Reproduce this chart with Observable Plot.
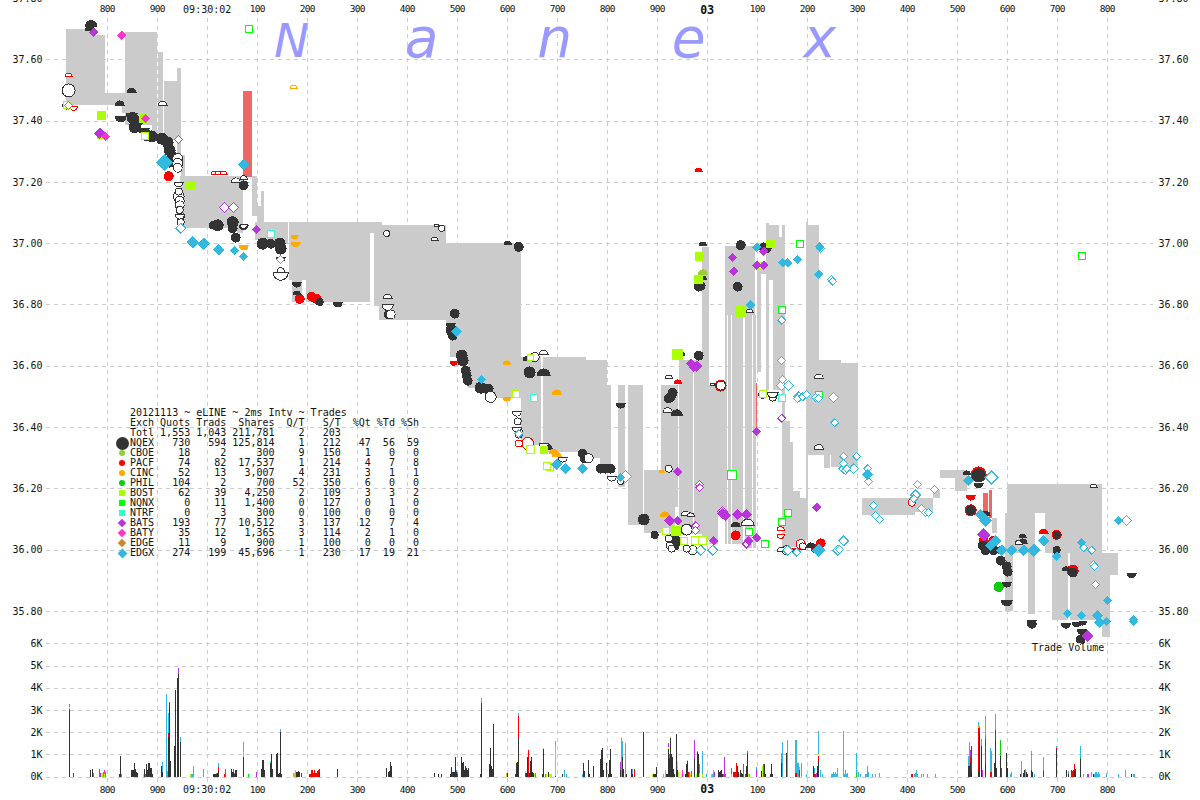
<!DOCTYPE html>
<html><head><meta charset="utf-8">
<script src="https://cdn.jsdelivr.net/npm/d3@7"></script>
<script src="https://cdn.jsdelivr.net/npm/@observablehq/plot@0.6"></script>
<style>
html,body{margin:0;padding:0;background:#fff}
#wrap{position:relative;width:1200px;height:800px;overflow:hidden;font-family:"DejaVu Sans Mono",monospace}
#wrap svg{position:absolute;left:0;top:0;background:transparent}
#wrap g[font-size="9.5"] text{letter-spacing:-.7px}
#legend{position:absolute;left:130px;top:408px;font:10px/10px "DejaVu Sans Mono",monospace;color:#111;white-space:pre}
#legend i{position:absolute;display:block}
</style></head><body><div id="wrap"></div>
<script>
// ---- axes
const tickMs=[-200,-100,0,100,200,300,400,500,600,700,800,900,1000,1100,1200,1300,1400,1500,1600,1700,1800];
const tickLabels=["800","900","09:30:02","100","200","300","400","500","600","700","800","900","03","100","200","300","400","500","600","700","800"];
const priceTicks=[35.8,36.0,36.2,36.4,36.6,36.8,37.0,37.2,37.4,37.6,37.8];
const volumeTicks=[0,1000,2000,3000,4000,5000,6000];
const watermark=[["N",169,37.61,47],["a",429,37.61,55],["n",695,37.61,55],["e",963,37.61,55],["x",1225,37.61,55]];

// ---- legend table
const exchNames=["NQEX","CBOE","PACF","CINC","PHIL","BOST","NQNX","NTRF","BATS","BATY","EDGE","EDGX"];
const quots=["730","18","74","52","104","62","0","0","193","35","11","274"];
const trads=["594","2","82","13","2","39","11","3","77","12","9","199"];
const shares=["125,814","300","17,537","3,007","700","4,250","1,400","300","10,512","1,365","900","45,696"];
const qPerT=["1","9","1","4","52","2","0","0","3","3","1","1"];
const sPerT=["212","150","214","231","350","109","127","100","137","114","100","230"];
const pctQt=["47","1","4","3","6","3","0","0","12","2","0","17"];
const pctTd=["56","0","7","1","0","3","1","0","7","1","0","19"];
const pctSh=["59","0","8","1","0","2","0","0","4","0","0","21"];

// ---- quote spread [ms1, ms2, low, high]
const spreadBands=[[-281,-227,37.451,37.699],[-227,-203,37.451,37.68],[-203,-169,37.451,37.49],[-169,-163,37.425,37.49],[-163,-109,37.385,37.69],[-109,-99,37.353,37.69],[-97,-87,37.353,37.623],[-85,-59,37.337,37.53],[-59,-51,37.255,37.57],[-51,-43,37.22,37.288],[-53,-43,37.05,37.22],[-43,61,37.05,37.22],[61,73,37.033,37.22],[91,101,37.09,37.22],[101,109,37.06,37.12],[109,115,37.07,37.17],[97,117,37.01,37.07],[117,163,37.0,37.07],[165,199,36.88,37.07],[171,191,36.808,36.88],[199,327,36.808,37.07],[327,351,37.033,37.07],[335,345,36.795,37.06],[345,479,36.75,37.06],[479,487,36.707,37.0],[487,523,36.63,37.0],[523,567,36.527,37.0],[567,629,36.495,37.0],[629,669,36.34,36.63],[673,759,36.32,36.63],[759,787,36.30,36.62],[787,801,36.27,36.62],[801,809,36.26,36.537],[823,837,36.205,36.537],[843,873,36.08,36.537],[875,909,36.055,36.26],[909,937,36.056,36.537],[937,943,36.14,36.537],[945,973,36.05,36.62],[975,991,36.05,36.62],[991,1005,36.03,36.987],[1005,1023,36.02,36.537],[1023,1037,36.12,36.537],[1037,1097,36.765,36.99],[1037,1041,36.02,36.765],[1043,1049,36.02,36.765],[1051,1073,36.02,36.765],[1077,1091,36.005,36.765],[1093,1099,36.005,36.765],[1101,1109,36.58,36.93],[1109,1119,36.90,36.93],[1119,1125,36.52,37.066],[1125,1145,36.88,37.06],[1133,1157,36.52,36.88],[1145,1151,36.88,37.02],[1151,1157,36.88,37.06],[1151,1157,36.42,36.52],[1151,1167,36.01,36.42],[1167,1173,36.01,36.35],[1173,1187,36.01,36.19],[1187,1199,36.01,36.17],[1199,1202,36.03,37.07],[1203,1225,36.62,37.06],[1203,1269,36.31,36.62],[1269,1303,36.31,36.61],[1235,1247,36.265,36.31],[1249,1303,36.27,36.31],[1311,1417,36.113,36.17],[1401,1453,36.123,36.17],[1453,1467,36.17,36.195],[1467,1499,36.233,36.26],[1497,1521,36.19,36.26],[1571,1581,36.055,36.103],[1597,1601,35.80,36.12],[1601,1613,35.80,35.99],[1643,1657,35.79,35.99],[1691,1723,35.77,35.99],[1727,1791,35.77,35.99],[1791,1807,35.715,35.99],[1807,1823,35.917,35.99],[1601,1657,35.99,36.215],[1657,1677,36.12,36.215],[1677,1791,35.99,36.215]];
const crossedBands=[[73,91,37.216,37.497],[1099,1100,36.387,36.544],[1553,1563,36.113,36.185],[1565,1571,36.103,36.195]];

// ---- markers [ms, price, radius or side]
const blackCircles=[[-149,37.41,6],[-145,37.38,6],[-137,37.40,5],[-121,37.353,6],[-111,37.35,6],[-91,37.343,6],[-83,37.335,5],[-79,37.33,6],[-75,37.304,6],[-71,37.29,5],[-75,37.268,6],[21,37.06,6],[11,37.06,4],[51,37.07,6],[51,37.05,5],[57,37.02,5],[73,37.19,5],[111,37.0,6],[127,37.0,5],[145,37.0,6],[147,36.984,6],[225,36.81,4],[363,36.77,5],[623,36.99,5],[495,36.772,5],[489,36.717,6],[491,36.70,5],[509,36.635,6],[511,36.619,6],[517,36.586,5],[519,36.57,5],[521,36.553,5],[547,36.53,6],[557,36.527,5],[563,36.527,5],[645,36.58,6],[751,36.315,5],[755,36.30,5],[787,36.266,5],[797,36.266,5],[807,36.266,5],[983,36.86,5],[987,36.863,5],[983,36.635,5],[931,36.514,5],[927,36.50,5],[923,36.495,5],[1067,36.995,5],[1061,36.86,5],[1071,36.78,4],[1113,36.988,5],[1119,36.985,5],[873,36.10,6],[895,36.05,4],[933,36.04,5],[940,36.03,5],[935,36.015,5],[1543,36.244,7],[1527,36.13,5],[1551,36.015,5],[1557,36.0,5],[1573,36.0,5],[1587,35.966,5],[1599,35.947,5],[1601,35.93,5],[1699,36.05,4],[1699,36.0,4],[1731,35.927,5],[1747,35.708,5]];
const blackHalfUp=[[-232,37.71,6],[-235,37.696,5],[-151,37.493,5],[-175,37.451,5],[601,36.997,4],[639,36.62,4],[673,36.57,7],[681,36.33,5],[991,36.994,4],[991,36.883,4],[948,36.635,4],[939,36.44,6],[1057,36.077,5],[1631,36.022,5],[1717,35.934,4],[1519,36.247,4],[1631,36.04,4],[179,36.834,4],[1207,36.009,5],[1557,36.113,5]];
const blackHalfDown=[[-173,37.415,6],[-151,37.425,6],[-127,37.376,6],[73,37.06,5],[147,36.955,5],[179,36.873,5],[261,36.808,5],[487,36.74,5],[827,36.478,5],[1543,36.218,5],[1599,35.894,5],[1599,35.836,6],[1649,35.77,5],[1649,35.76,5],[1717,35.76,5],[1739,35.764,5],[1751,35.767,4],[1749,35.74,5],[1849,35.924,5]];
const whiteCircles=[[-277,37.50,7],[-59,37.278,5.5],[-59,37.262,5.5],[-59,37.248,5],[-57,37.17,4],[-57,37.154,6],[-55,37.14,5],[-55,37.125,5],[-55,37.11,4],[-53,37.09,4.5],[-53,37.07,4],[359,37.033,3.5],[469,37.05,3.5],[367,36.769,5],[567,36.50,6],[617,36.508,3.5],[655,36.63,5],[621,36.42,4],[623,36.39,4],[623,36.377,4],[763,36.30,5],[827,36.224,3.5],[147,36.91,4],[1129,37.0,3.5],[1027,36.537,5],[923,36.266,4],[959,36.067,6],[923,36.038,4],[925,36.015,4],[929,36.005,4],[959,36.005,4],[971,36.0,5],[1131,36.498,4],[1191,36.012,4],[1159,36.0,5]];
const whiteHalfUp=[[-89,37.45,5],[57,37.20,5],[73,37.21,4],[459,37.056,3],[455,37.01,4],[361,36.82,5],[673,36.638,5],[923,36.56,4],[1011,36.537,3],[921,36.45,5],[1085,36.775,4],[957,36.113,5],[967,36.11,4],[1081,36.08,7],[1223,36.56,5],[1223,36.33,5],[1623,36.02,4],[1773,36.204,4],[1149,35.995,5]];
const whiteHalfDown=[[-281,37.454,5],[-57,37.20,5],[-55,37.095,5],[73,37.062,4],[147,36.905,8],[361,36.80,6],[619,36.452,5],[619,36.40,5],[673,36.348,5],[711,36.302,5],[809,36.24,5],[1111,36.51,5],[1131,36.515,6]];
const edgxFilled=[[-85,37.265,8],[-29,37.004,5.5],[-7,37.0,5.5],[23,36.98,5],[55,36.978,4],[73,36.958,4],[73,37.258,5],[499,36.713,5],[549,36.557,4],[699,36.28,5],[717,36.266,5],[751,36.266,5],[827,36.237,4],[1087,36.80,4],[1099,36.988,4],[1151,36.938,4],[1161,36.938,4],[1181,36.948,4],[1225,36.99,4],[1223,36.90,4],[1523,36.227,5],[1547,36.116,5],[1557,36.097,6],[1577,36.03,5],[1567,36.015,5],[1589,36.0,5],[1609,36.0,5],[1633,36.0,5],[1653,36.0,6],[1673,36.03,5],[1699,35.98,4],[1749,36.025,4],[1801,35.836,4],[1721,35.793,4],[1749,35.787,4],[1781,35.787,5],[1785,35.764,5],[1799,35.767,4],[1853,35.774,4],[1853,35.767,4],[1823,36.097,4],[1223,36.0,6],[1321,36.247,5]];
const edgxHollow=[[-53,37.05,5],[147,36.948,4],[837,36.24,6],[623,36.38,4],[987,36.0,5],[1011,36.0,5],[1161,36.0,5],[1179,35.993,4],[1227,36.984,4],[1249,36.883,4],[1251,36.877,4],[1149,36.75,4],[1149,36.619,4],[1151,36.557,4],[1149,36.537,5],[1163,36.537,5],[1181,36.495,4],[1183,36.50,5],[1191,36.50,4],[1199,36.508,4],[1217,36.498,4],[1223,36.495,4],[1253,36.498,5],[1255,36.416,4],[1273,36.306,4],[1273,36.283,4],[1273,36.266,5],[1277,36.26,4],[1279,36.266,4],[1299,36.306,4],[1293,36.266,5],[1321,36.266,4],[1323,36.224,4],[1333,36.146,4],[1337,36.113,4],[1345,36.10,4],[1421,36.214,4],[1417,36.18,5],[1413,36.168,4],[1455,36.198,4],[1429,36.136,4],[1437,36.123,4],[1443,36.123,4],[1569,36.237,6.5],[1261,36.0,5],[1265,36.002,4],[1273,36.03,5],[1753,36.008,4],[1769,36.0,4],[1773,35.953,4],[1775,35.947,4],[1777,35.888,4],[1839,36.097,5]];
const batsFilled=[[-227,37.69,4],[-215,37.36,5],[99,37.046,4],[1051,36.955,4],[1053,36.91,4],[1099,36.93,4],[1113,36.93,4],[1113,36.975,4],[941,36.256,4],[967,36.61,4],[979,36.60,5],[973,36.596,4],[925,36.096,5],[941,36.096,4],[1013,36.03,4],[1031,36.12,5],[1037,36.113,5],[1061,36.116,5],[1079,36.116,5],[1083,36.03,4],[1099,36.04,4],[1099,36.387,4],[1219,36.14,4],[1553,36.05,6],[1761,35.72,5]];
const batsHollow=[[-57,37.34,4],[35,37.118,5],[53,37.118,5],[985,36.214,4],[985,36.204,4],[1149,36.43,4],[1031,36.126,5],[977,36.08,4],[977,36.064,4],[1079,36.02,4]];
const batyFilled=[[-171,37.68,4],[-123,37.408,4],[-203,37.35,4]];
const batyHollow=[[-277,37.451,4]];
const bostFilled=[[-211,37.418,8],[-213,37.353,7],[-127,37.408,8],[-33,37.19,8],[985,36.958,8],[983,36.883,8],[941,36.638,10],[1067,36.78,10],[1127,37.0,8],[673,36.328,7],[937,36.064,9]];
const bostHollow=[[-281,37.451,7],[-125,37.35,7],[617,36.508,7],[647,36.328,8],[685,36.27,7],[679,36.276,7],[917,36.064,7],[953,36.03,7],[977,36.03,8],[991,36.03,8],[1111,36.51,7],[1107,36.93,6],[647,36.63,6]];
const nqnxHollow=[[83,37.70,7],[1185,37.0,7],[1149,36.785,7],[1223,36.505,7],[1049,36.244,9],[1083,36.06,7],[1115,36.02,7],[1149,36.093,7],[1161,36.12,7],[1749,36.96,7]];
const ntrfHollow=[[127,37.033,7],[653,36.498,7],[1149,36.498,7]];
const pacfFilled=[[-77,37.22,5],[185,36.82,5],[209,36.827,5],[219,36.82,5],[1057,36.048,5],[1217,36.005,5],[1227,36.022,5],[1699,36.05,5],[1553,36.03,5],[1573,36.03,5],[1587,36.0,4],[1527,36.13,6],[1731,35.933,6],[1543,36.247,8]];
const pacfHalfUp=[[941,36.544,4],[1673,36.054,5],[983,37.235,4]];
const pacfHalfDown=[[493,36.615,4],[1527,36.178,5],[1177,36.005,5]];
const pacfHollowUp=[[-277,37.545,4],[15,37.225,4],[23,37.225,4],[33,37.225,4],[1147,36.065,4]];
const pacfHollowDown=[[-267,37.447,4],[1147,36.05,4]];
const pacfRings=[[641,36.348,6.5],[623,36.348,4],[1027,36.537,6],[1187,36.02,5],[1409,36.155,4]];
const cincHalfUp=[[599,36.606,4],[699,36.508,5],[693,36.315,5],[915,36.11,5],[909,36.253,3],[699,36.305,5]];
const cincHalfDown=[[73,36.994,5],[175,37.027,4],[177,37.004,5],[599,36.498,4]];
const cincHollowUp=[[173,37.506,4]];
const cboeHalfUp=[[991,36.90,5]];
const philFilled=[[1583,35.88,5]];

// ---- trade volume per 2 ms bin [ms, shares]
const volNQEX=[[-276,2950],[-233,300],[-230,350],[-175,100],[-173,950],[-151,300],[-149,300],[-147,300],[-145,600],[-143,350],[-141,200],[-139,150],[-125,350],[-121,550],[-119,300],[-117,600],[-115,600],[-113,400],[-111,400],[-109,100],[-91,500],[-89,200],[-77,1800],[-75,3200],[-73,720],[-65,1400],[-63,3900],[-59,4450],[-57,4600],[-53,1550],[13,100],[15,140],[17,100],[19,100],[21,150],[23,250],[49,350],[51,200],[53,200],[55,100],[57,300],[59,300],[73,900],[109,350],[111,750],[113,750],[115,300],[127,600],[129,1000],[131,350],[139,1000],[141,1050],[143,100],[145,150],[147,2000],[149,100],[179,200],[181,200],[183,250],[185,200],[225,150],[261,350],[359,400],[362,200],[365,250],[366,670],[368,500],[455,150],[463,130],[469,130],[487,100],[489,420],[491,200],[493,200],[495,200],[497,900],[499,200],[509,880],[511,600],[513,650],[515,300],[517,500],[519,400],[521,300],[523,400],[547,100],[549,3300],[565,550],[567,1300],[569,500],[571,350],[573,2350],[601,150],[617,100],[619,600],[621,650],[623,1750],[639,150],[641,900],[645,150],[647,700],[649,900],[651,200],[653,150],[671,100],[673,1250],[683,200],[697,50],[711,130],[753,600],[755,250],[763,750],[765,130],[773,480],[787,800],[789,1200],[791,1300],[793,300],[799,600],[803,130],[805,750],[807,1250],[809,130],[827,300],[831,900],[833,350],[839,130],[849,350],[851,130],[873,2000],[893,100],[895,100],[897,100],[899,450],[919,130],[921,130],[923,1250],[925,850],[927,1750],[929,1000],[931,900],[933,350],[935,130],[938,130],[939,1900],[941,300],[957,130],[959,550],[961,700],[975,800],[981,1100],[983,1000],[1023,300],[1025,200],[1027,250],[1029,300],[1031,130],[1061,500],[1063,200],[1067,300],[1069,150],[1071,100],[1079,500],[1081,1050],[1109,250],[1115,550],[1117,100],[1127,130],[1129,550],[1131,130],[1149,600],[1159,1050],[1213,500],[1221,500],[1223,700],[1523,500],[1525,500],[1527,600],[1529,250],[1543,250],[1545,1900],[1549,1400],[1557,600],[1575,600],[1577,1600],[1579,400],[1587,950],[1599,1050],[1601,400],[1627,130],[1633,150],[1635,300],[1639,200],[1641,100],[1649,300],[1651,200],[1699,1200],[1719,300],[1723,130],[1735,250],[1737,350],[1747,800],[1773,130],[1849,130]];
const volPACF=[[-276,100],[-267,150],[-77,150],[-75,150],[23,170],[34,100],[189,150],[205,100],[207,100],[209,300],[211,300],[213,150],[215,300],[217,150],[219,150],[221,250],[223,300],[225,200],[501,100],[623,1000],[637,150],[643,1200],[854,350],[963,200],[1053,200],[1055,200],[1057,200],[1059,600],[1077,100],[1177,150],[1179,150],[1185,300],[1215,100],[1217,100],[1223,250],[1409,130],[1411,130],[1527,300],[1529,1150],[1543,1950],[1545,300],[1557,1100],[1567,200],[1569,200],[1577,500],[1589,400],[1673,250],[1699,100],[1729,300],[1731,250],[1733,300],[1735,300]];
const volCINC=[[73,250],[173,150],[175,150],[177,280],[599,150],[697,1350],[913,100],[917,300],[1009,130],[1185,150],[1189,50],[1543,100]];
const volPHIL=[[83,100],[1149,100],[1299,150],[1587,700],[1747,100]];
const volBOST=[[-276,100],[-211,150],[-209,150],[-205,100],[-127,100],[-33,100],[619,50],[637,100],[655,100],[673,50],[679,100],[685,100],[687,100],[689,100],[891,100],[923,100],[927,50],[941,400],[943,200],[949,130],[953,100],[961,50],[967,100],[979,100],[985,150],[991,100],[1049,100],[1065,100],[1083,100],[1111,500],[1223,50]];
const volNTRF=[[127,100]];
const volEDGX=[[-89,450],[-81,3700],[-79,250],[-77,900],[-53,250],[-31,100],[-29,100],[-27,500],[-7,350],[19,50],[23,200],[55,50],[73,400],[147,150],[499,100],[501,100],[549,250],[623,100],[697,200],[715,300],[719,130],[751,100],[829,1750],[831,700],[837,1500],[851,200],[981,50],[991,1050],[999,130],[1011,130],[1013,300],[1085,100],[1099,100],[1149,250],[1151,1550],[1161,1650],[1177,1500],[1179,1500],[1181,600],[1183,600],[1189,550],[1199,130],[1215,300],[1223,1050],[1227,300],[1231,100],[1249,130],[1251,130],[1253,200],[1255,130],[1257,200],[1259,130],[1261,380],[1273,2050],[1275,130],[1277,300],[1279,130],[1281,170],[1299,900],[1303,200],[1307,130],[1317,130],[1319,130],[1321,500],[1323,230],[1331,100],[1337,100],[1345,150],[1415,130],[1417,180],[1419,280],[1421,130],[1429,130],[1433,130],[1441,130],[1457,130],[1523,450],[1525,1050],[1543,170],[1545,100],[1549,300],[1557,900],[1567,1100],[1569,950],[1577,700],[1607,100],[1609,200],[1629,700],[1637,350],[1649,850],[1655,130],[1673,650],[1699,100],[1723,130],[1747,500],[1753,130],[1769,200],[1775,130],[1777,200],[1779,200],[1781,130],[1783,200],[1785,130],[1799,150],[1823,100],[1837,300],[1853,100],[1855,100]];
const volBATS=[[-227,150],[-215,350],[-213,150],[-123,100],[-57,300],[36,350],[53,150],[99,200],[827,350],[923,150],[925,150],[969,250],[975,850],[985,400],[1014,200],[1033,100],[1035,900],[1037,100],[1049,300],[1073,550],[1081,100],[1099,350],[1113,550],[1149,100],[1219,150],[1527,300],[1551,300],[1557,150],[1761,130],[1763,130]];
const volBATY=[[-276,100],[-207,200],[-205,200],[-203,200],[-171,100],[657,150],[677,100],[951,300],[965,200]];

// ---- colours by exchange
const C={nqex:"#333333",cboe:"#99cc33",pacf:"#ff0000",cinc:"#ffaa00",phil:"#11cc11",bost:"#aaff00",nqnx:"#00ff00",ntrf:"#33ffcc",bats:"#bb33dd",baty:"#ff33cc",edge:"#cc8822",edgx:"#33b8e0"};
const GRID="#cccccc",QUOTE="#cbcbcb",CROSS="#f06666",MARK="#9999ff";

// ---- custom pixel-chart symbols
const rad=s=>Math.sqrt(s/Math.PI);
const SYM={
 up:{draw(c,s){const r=rad(s);c.moveTo(-r,0);c.arc(0,0,r,Math.PI,0);c.closePath();}},
 down:{draw(c,s){const r=rad(s);c.moveTo(r,0);c.arc(0,0,r,0,Math.PI);c.closePath();}},
 diamond:{draw(c,s){const r=rad(s);c.moveTo(0,-r);c.lineTo(r,0);c.lineTo(0,r);c.lineTo(-r,0);c.closePath();}},
 square:{draw(c,s){const r=rad(s);c.rect(-r,-r,2*r,2*r);}}
};
const radiusOf=symbol=>symbol===SYM.square?d=>d[2]/2:symbol===SYM.diamond?d=>d[2]:d=>d[2]-0.5;
const dots=(data,symbol,fill,stroke)=>Plot.dot(data,{x:d=>d[0],y:d=>d[1],r:{value:radiusOf(symbol),scale:null},symbol,fill,stroke,strokeWidth:1,shapeRendering:"crispEdges"});
const bands=(data,fill)=>Plot.rect(data,{x1:d=>d[0],x2:d=>d[1],y1:d=>d[2],y2:d=>d[3],fill,shapeRendering:"crispEdges"});

// ---- stacked volume
const volSeries=[[volNQEX,C.nqex],[volPACF,C.pacf],[volCINC,C.cinc],[volPHIL,C.phil],[volBOST,C.bost],[volNTRF,C.ntrf],[volBATS,C.bats],[volEDGX,C.edgx],[volBATY,C.baty]];
const tops=new Map(), volRows=[];
for(const [arr,color] of volSeries) for(const [ms,v] of arr){const b=tops.get(ms)||0;volRows.push({ms,b,t:b+v,color});tops.set(ms,b+v);}

const X={domain:[-321.33,1892.67]};
const MARG={width:1200,height:800,marginLeft:46,marginRight:47,marginTop:10,marginBottom:12};
const sty={background:"transparent",fontFamily:"'DejaVu Sans Mono',monospace",fontSize:"10px",color:"#111"};
const labelIdx=tickMs.map((_,i)=>i);
const xLabels=(anchor,dy)=>[
 Plot.text(labelIdx.filter(i=>i!==2&&i!==12),{x:i=>tickMs[i],text:i=>tickLabels[i],frameAnchor:anchor,dy,fontSize:9.5,fill:"#111"}),
 Plot.text([2],{x:i=>tickMs[i],text:i=>tickLabels[i],frameAnchor:anchor,dy,fontSize:10,fill:"#111"}),
 Plot.text([12],{x:i=>tickMs[i],text:i=>tickLabels[i],frameAnchor:anchor,dy,fontSize:11.5,fontWeight:"bold",fill:"#111"})
];
const main=Plot.plot({...MARG,style:sty,x:{...X,axis:null},y:{domain:[35.7,37.8],range:[641.6,-2],axis:null},marks:[
 Plot.gridX(tickMs,{stroke:GRID,strokeOpacity:1,strokeDasharray:"4,4",shapeRendering:"crispEdges"}),
 Plot.gridY(priceTicks,{stroke:GRID,strokeOpacity:1,strokeDasharray:"4,4",shapeRendering:"crispEdges"}),
 Plot.axisY(priceTicks,{anchor:"left",tickSize:0,tickPadding:4,tickFormat:d3.format(".2f"),label:null,fontSize:10,fill:"#111"}),
 Plot.axisY(priceTicks,{anchor:"right",tickSize:0,tickPadding:5,tickFormat:d3.format(".2f"),label:null,fontSize:10,fill:"#111"}),
 ...xLabels("top",-5),...xLabels("bottom",4),
 bands(spreadBands,QUOTE),bands(crossedBands,CROSS),
 Plot.text(watermark,{x:d=>d[1],y:d=>d[2],text:d=>d[0],fontSize:d=>d[3],fontFamily:"'DejaVu Sans'",fontStyle:"oblique",textAnchor:"middle",lineAnchor:"bottom",fill:MARK}),
 dots(pacfFilled,"circle",C.pacf,C.pacf),
 dots(pacfRings,"circle","#fff",C.pacf),
 dots(blackCircles,"circle",C.nqex,C.nqex),
 dots(blackHalfUp,SYM.up,C.nqex,C.nqex),
 dots(blackHalfDown,SYM.down,C.nqex,C.nqex),
 dots(whiteCircles,"circle","#fff",C.nqex),
 dots(whiteHalfUp,SYM.up,"#fff",C.nqex),
 dots(whiteHalfDown,SYM.down,"#fff",C.nqex),
 dots(pacfHalfUp,SYM.up,C.pacf,C.pacf),
 dots(pacfHalfDown,SYM.down,C.pacf,C.pacf),
 dots(pacfHollowUp,SYM.up,"#fff",C.pacf),
 dots(pacfHollowDown,SYM.down,"#fff",C.pacf),
 dots(cincHalfUp,SYM.up,C.cinc,C.cinc),
 dots(cincHalfDown,SYM.down,C.cinc,C.cinc),
 dots(cincHollowUp,SYM.up,"#fff",C.cinc),
 dots(cboeHalfUp,SYM.up,C.cboe,C.cboe),
 dots(philFilled,"circle",C.phil,C.phil),
 dots(bostFilled,SYM.square,C.bost,C.bost),
 dots(bostHollow,SYM.square,"#fff",C.bost),
 dots(nqnxHollow,SYM.square,"#fff",C.nqnx),
 dots(ntrfHollow,SYM.square,"#fff",C.ntrf),
 dots(batsHollow,SYM.diamond,"#fff",C.bats),
 dots(batsFilled,SYM.diamond,C.bats,C.bats),
 dots(batyHollow,SYM.diamond,"#fff",C.baty),
 dots(batyFilled,SYM.diamond,C.baty,C.baty),
 dots(edgxHollow,SYM.diamond,"#fff",C.edgx),
 dots(edgxFilled,SYM.diamond,C.edgx,C.edgx)
]});
const vol=Plot.plot({...MARG,style:sty,x:{...X,axis:null},y:{domain:[0,6000],range:[776.7,643.3],axis:null},marks:[
 Plot.gridY(volumeTicks,{stroke:GRID,strokeOpacity:1,strokeDasharray:"4,4",shapeRendering:"crispEdges"}),
 Plot.axisY(volumeTicks,{anchor:"left",tickSize:0,tickPadding:4,tickFormat:d=>(d/1000)+"K",label:null,fontSize:10,fill:"#111"}),
 Plot.axisY(volumeTicks,{anchor:"right",tickSize:0,tickPadding:5,tickFormat:d=>(d/1000)+"K",label:null,fontSize:10,fill:"#111"}),
 Plot.rect(volRows,{x1:d=>d.ms,x2:d=>d.ms+2,y1:"b",y2:"t",fill:d=>d.color,shapeRendering:"crispEdges"}),
 Plot.text(["Trade Volume"],{x:[1722],y:[5800],text:d=>d,fontSize:10,fill:"#111"})
]});
const wrap=document.getElementById("wrap");
wrap.append(main,vol);

// ---- legend block
const pad=(s,n)=>String(s).padStart(n);
const row=(name,a,b,c,d,e,f,g,h)=>name+pad(a,6)+pad(b,6)+pad(c,8)+pad(d,5)+pad(e,6)+pad(f,5)+pad(g,4)+pad(h,4);
const lines=["20121113 ~ eLINE ~ 2ms Intv ~ Trades",
 row("Exch","Quots","Trads","Shares","Q/T","S/T","%Qt","%Td","%Sh"),
 row("Totl","1,553","1,043","211,781","2","203","","",""),
 ...exchNames.map((n,i)=>row(n,quots[i],trads[i],shares[i],qPerT[i],sPerT[i],pctQt[i],pctTd[i],pctSh[i]))];
const lg=document.createElement("div");lg.id="legend";lg.textContent=lines.join("\n");wrap.append(lg);
const glyphColors=[C.nqex,C.cboe,C.pacf,C.cinc,C.phil,C.bost,C.nqnx,C.ntrf,C.bats,C.baty,C.edge,C.edgx];
glyphColors.forEach((col,i)=>{const g=document.createElement("i");
 const s=i===0?13:i===11?7:6;
 g.style.cssText=`width:${s}px;height:${s}px;background:${col};left:${-8-s/2}px;top:${30+i*10+5-s/2}px;`+((i>=8)?"transform:rotate(45deg);":(i<5?"border-radius:50%;":""));
 lg.append(g);});
</script></body></html>
